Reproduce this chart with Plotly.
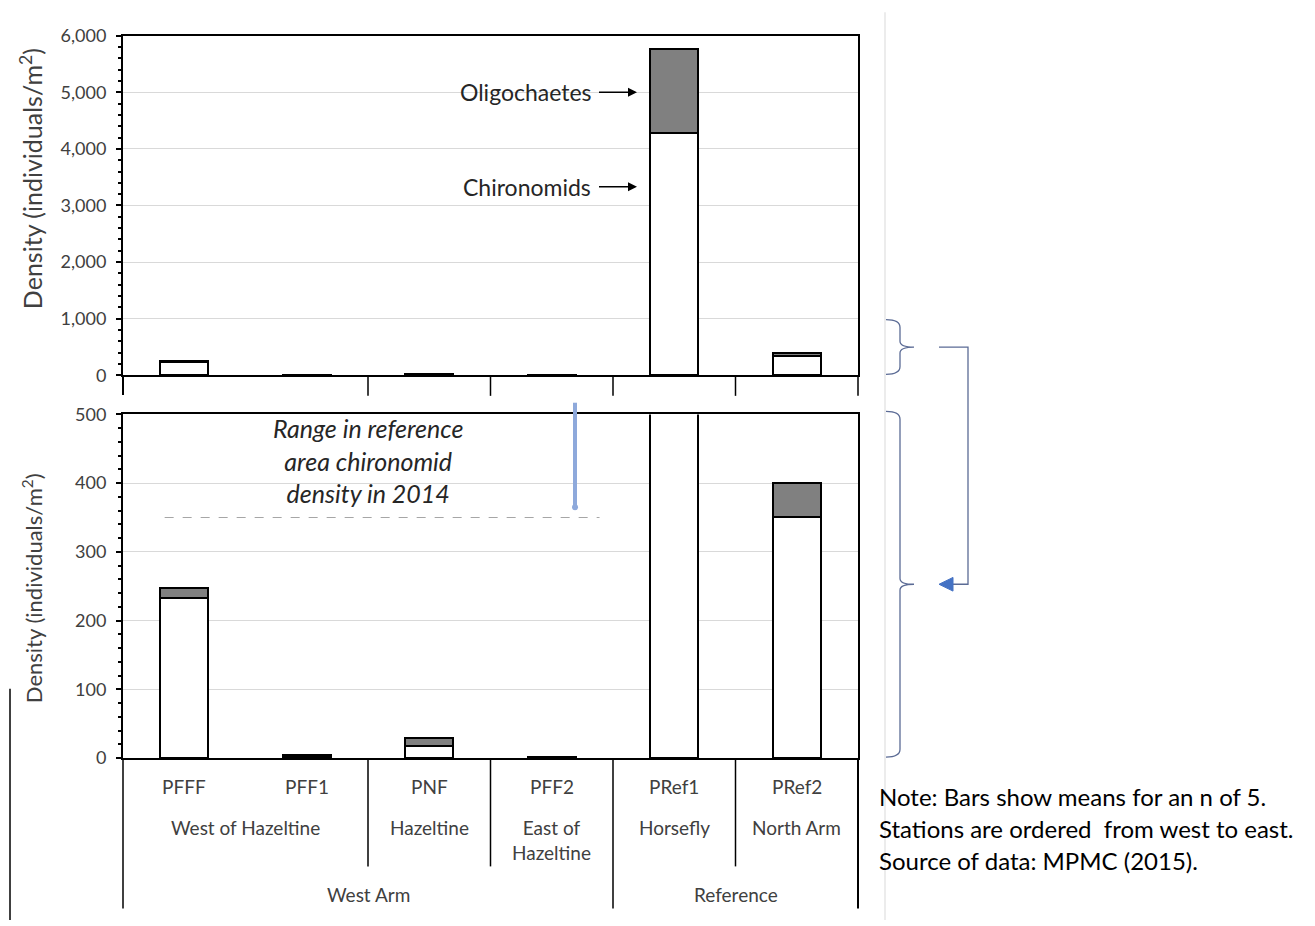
import plotly.graph_objects as go

# ---------------- data ----------------
stations = ["PFFF", "PFF1", "PNF", "PFF2", "PRef1", "PRef2"]
chironomids = [233, 3, 18, 1, 4280, 350]
oligochaetes = [14, 2, 11, 1, 1490, 50]

# hierarchical category labels: (label, first index, last index)
locations = [("West of Hazeltine", 0, 1), ("Hazeltine", 2, 2), ("East of<br>Hazeltine", 3, 3),
             ("Horsefly", 4, 4), ("North Arm", 5, 5)]
areas = [("West Arm", 0, 3), ("Reference", 4, 5)]

top_ticks = [0, 1000, 2000, 3000, 4000, 5000, 6000]
bottom_ticks = [0, 100, 200, 300, 400, 500]

ref_level = 350            # dashed reference level
ref_range = [365, 517]     # range in reference-area chironomid density 2014
ref_line_x = [-0.16, 3.39]
ref_range_x = 3.19

note_lines = ["Note: Bars show means for an n of 5.",
              "Stations are ordered  from west to east.",
              "Source of data: MPMC (2015)."]

# ---------------- geometry (pixels) ----------------
W, H = 1315, 926
OFF = 8                      # page body margin compensation
X0, X1 = 123, 858
TOP_T, TOP_B = 24, 372
BOT_T, BOT_B = 412, 764
n = len(stations)
xs = list(range(n))

def fx(px):
    return (px - OFF) / W

def fy(py):
    return 1 - (py - OFF) / H

def cat_px(v):
    return X0 + (v + 0.5) * (X1 - X0) / n

def bot_val_px(v):
    return BOT_B - v / 500 * (BOT_B - BOT_T)

FONT = "Lato, 'Open Sans', sans-serif"
TXT = "#404040"
OLI = "#808080"

fig = go.Figure()

for xa, ya in (("x", "y"), ("x2", "y2")):
    fig.add_trace(go.Bar(x=xs, y=chironomids, xaxis=xa, yaxis=ya, name="Chironomids",
                         marker=dict(color="white", line=dict(color="black", width=2)),
                         showlegend=False, hoverinfo="skip"))
    fig.add_trace(go.Bar(x=xs, y=oligochaetes, xaxis=xa, yaxis=ya, name="Oligochaetes",
                         marker=dict(color=OLI, line=dict(color="black", width=2)),
                         showlegend=False, hoverinfo="skip"))

# dashed reference level
fig.add_trace(go.Scatter(x=ref_line_x, y=[ref_level, ref_level], xaxis="x2", yaxis="y2",
                         mode="lines", line=dict(color="#a6a6a6", width=1.2, dash="dash"),
                         showlegend=False, hoverinfo="skip"))
# range end markers
fig.add_trace(go.Scatter(x=[ref_range_x, ref_range_x], y=ref_range, xaxis="x2", yaxis="y2",
                         mode="markers", marker=dict(color="#8ea9db", size=6),
                         cliponaxis=False, showlegend=False, hoverinfo="skip"))

shapes = []
# range line (not clipped vertically)
shapes.append(dict(type="line", xref="paper", yref="paper",
                   x0=fx(cat_px(ref_range_x)), x1=fx(cat_px(ref_range_x)),
                   y0=fy(bot_val_px(ref_range[0])), y1=fy(bot_val_px(ref_range[1])),
                   line=dict(color="#8ea9db", width=4)))

def vline(xp, y0p, y1p, color="black", width=1.5):
    shapes.append(dict(type="line", xref="paper", yref="paper", x0=fx(xp), x1=fx(xp),
                       y0=fy(y0p), y1=fy(y1p), line=dict(color=color, width=width)))

# top panel category dividers below axis
vline(X0, TOP_B, TOP_B + 20, width=2)
for b in [1.5, 2.5, 3.5, 4.5, 5.5]:
    vline(cat_px(b), TOP_B, TOP_B + 21)

# bottom panel hierarchical dividers
vline(cat_px(-0.5), BOT_B, 918)
vline(cat_px(5.5), BOT_B, 918, width=2)
for b in [1.5, 2.5, 4.5]:
    vline(cat_px(b), BOT_B, 875)
vline(cat_px(3.5), BOT_B, 918)

# decorative page lines
vline(10, 693, 930, width=1.5)
vline(885, 0, 930, color="#e6e6e6", width=1.5)

# braces on the right
def brace(y0, y1, ym):
    pts = [(886, y0), (900, y0 + 8), (900, ym - 6), (914, ym), (900, ym + 6), (900, y1 - 8), (886, y1)]
    P = [(fx(a), fy(b)) for a, b in pts]
    path = (f"M {P[0][0]},{P[0][1]} Q {fx(900)},{fy(y0)} {P[1][0]},{P[1][1]} "
            f"L {P[2][0]},{P[2][1]} Q {fx(900)},{fy(ym)} {P[3][0]},{P[3][1]} "
            f"Q {fx(900)},{fy(ym)} {P[4][0]},{P[4][1]} L {P[5][0]},{P[5][1]} "
            f"Q {fx(900)},{fy(y1)} {P[6][0]},{P[6][1]}")
    shapes.append(dict(type="path", xref="paper", yref="paper", path=path,
                       line=dict(color="#5b6b95", width=1.3)))

brace(315, 371, 343)
brace(409, 763, 586)
conn = [(939, 343), (968, 343), (968, 586), (952, 586)]
path = "M " + " L ".join(f"{fx(a)},{fy(b)}" for a, b in conn)
shapes.append(dict(type="path", xref="paper", yref="paper", path=path,
                   line=dict(color="#5b6b95", width=1.3)))
tri = [(939, 586), (953, 579), (953, 593)]
path = "M " + " L ".join(f"{fx(a)},{fy(b)}" for a, b in tri) + " Z"
shapes.append(dict(type="path", xref="paper", yref="paper", path=path,
                   fillcolor="#4472c4", line=dict(color="#4472c4", width=1)))

annotations = []

def label(text, xp, yp, size=18, color=TXT, xanchor="center", yanchor="middle", **kw):
    annotations.append(dict(text=text, x=fx(xp), y=fy(yp), xref="paper", yref="paper",
                            xanchor=xanchor, yanchor=yanchor, showarrow=False,
                            font=dict(family=FONT, size=size, color=color), **kw))

# axis titles
label("Density (individuals/m<sup>2</sup>)", 31, 171, size=25, textangle=-90)
label("Density (individuals/m<sup>2</sup>)", 32, 590, size=22, textangle=-90)

# station labels
for i, s in enumerate(stations):
    label(s, cat_px(i), 793, size=19)
for t, a, b in locations:
    label(t, (cat_px(a) + cat_px(b)) / 2, 835 if "<br>" not in t else 848, size=19)
for t, a, b in areas:
    label(t, (cat_px(a - 0.5) + cat_px(b + 0.5)) / 2, 904, size=19)

# italic annotation
label("<i>Range in reference<br>area chironomid<br>density in 2014</i>", 368, 459, size=25,
      color="#262626")

# notes
for k, t in enumerate(note_lines):
    label(t, 877, 803 + 33 * k, size=24, color="black", xanchor="left")

# arrows with labels on top panel
for t, val in (("Oligochaetes", 5000), ("Chironomids", 3330)):
    annotations.append(dict(text=t + " ", x=(637 - X0) / ((X1 - X0) / n) - 0.5, y=val,
                            xref="x", yref="y", ax=-38, ay=0, showarrow=True,
                            arrowhead=2, arrowsize=1.2, arrowwidth=1.5, arrowcolor="black",
                            xanchor="right", yanchor="middle",
                            font=dict(family=FONT, size=23, color="#262626")))

axis_common = dict(showline=True, linecolor="black", linewidth=2, mirror=True,
                   zeroline=False, fixedrange=True)

fig.update_layout(
    width=W, height=H, margin=dict(l=0, r=0, t=0, b=0),
    paper_bgcolor="white", plot_bgcolor="white",
    barmode="stack", bargap=0.61, showlegend=False,
    shapes=shapes, annotations=annotations,
    xaxis=dict(domain=[fx(X0), fx(X1)], range=[-0.5, n - 0.5], anchor="y",
               showticklabels=False, showgrid=False, ticks="", **axis_common),
    yaxis=dict(domain=[fy(TOP_B), fy(TOP_T)], range=[0, 6000], anchor="x",
               tickvals=top_ticks, tickformat=",", ticks="outside", ticklen=5, tickwidth=1.5,
               tickcolor="black", showgrid=True, gridcolor="#d9d9d9", gridwidth=1,
               ticklabelstandoff=6,
               tickfont=dict(family=FONT, size=18, color=TXT),
               minor=dict(dtick=200, ticks="outside", ticklen=3, tickcolor="black", showgrid=False),
               **axis_common),
    xaxis2=dict(domain=[fx(X0), fx(X1)], range=[-0.5, n - 0.5], anchor="y2",
                showticklabels=False, showgrid=False, ticks="", **axis_common),
    yaxis2=dict(domain=[fy(BOT_B), fy(BOT_T)], range=[0, 500], anchor="x2",
                tickvals=bottom_ticks, ticks="outside", ticklen=5, tickwidth=1.5,
                tickcolor="black", showgrid=True, gridcolor="#d9d9d9", gridwidth=1,
                ticklabelstandoff=6,
                tickfont=dict(family=FONT, size=18, color=TXT),
                minor=dict(dtick=20, ticks="outside", ticklen=3, tickcolor="black", showgrid=False),
                **axis_common),
)

fig.write_html("out.html")
